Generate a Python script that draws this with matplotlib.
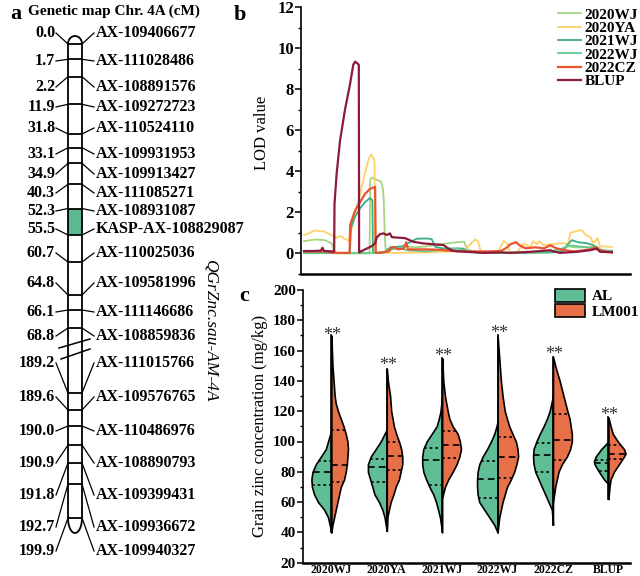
import numpy as np
import matplotlib
matplotlib.use("Agg")
import matplotlib.pyplot as plt
from matplotlib.patches import Patch, Rectangle
from matplotlib.ticker import MultipleLocator

plt.rcParams['font.family'] = ['Liberation Serif', 'DejaVu Serif']
plt.rcParams['font.weight'] = 'bold'

# ---------------- panel a data: genetic map of chr. 4A
map_cm = ["0.0", "1.7", "2.2", "11.9", "31.8", "33.1", "34.9", "40.3", "52.3", "55.5",
          "60.7", "64.8", "66.1", "68.8", "189.2", "189.6", "190.0", "190.9", "191.8",
          "192.7", "199.9"]
map_markers = ["AX-109406677", "AX-111028486", "AX-108891576", "AX-109272723",
               "AX-110524110", "AX-109931953", "AX-109913427", "AX-111085271",
               "AX-108931087", "KASP-AX-108829087", "AX-110025036", "AX-109581996",
               "AX-111146686", "AX-108859836", "AX-111015766", "AX-109576765",
               "AX-110486976", "AX-108890793", "AX-109399431", "AX-109936672",
               "AX-109940327"]
qtl_interval = (8, 9)  # markers bounding the QTL box

# ---------------- panel b data: LOD profiles (position, LOD)
lod_2020wj = [(0, 0.6), (3.6, 0.68), (6.8, 0.65), (9.0, 0.49), (9.7, 0.13), (10.5, 0.0),
              (21.3, 0.0), (21.5, 3.6), (22.0, 3.7), (23.5, 3.6), (25.0, 3.5), (25.6, 3.2),
              (25.9, 2.6), (26.2, 1.0), (26.5, 0.2), (28, 0.15), (30, 0.3), (33, 0.35),
              (36, 0.3), (40, 0.35), (44, 0.45), (48, 0.52), (52, 0.58), (53, 0.2),
              (56, 0.05), (60, 0.03), (70, 0.05), (80, 0.05), (84, 0.2), (86, 0.35),
              (88, 0.3), (92, 0.3), (95, 0.35), (97, 0.15), (100, 0.1)]
lod_2020ya = [(0, 0.89), (3.6, 1.12), (6.8, 1.06), (9.0, 0.89), (10.6, 0.76), (11.7, 0.85),
              (14.4, 0.62), (15.5, 1.2), (16.6, 1.95), (18.2, 2.9), (19.8, 3.9), (21.1, 4.65),
              (21.8, 4.82), (22.9, 4.55), (23.1, 0.03), (30, 0.03), (40, 0.05), (48, 0.1),
              (52, 0.15), (54, 0.45), (55.6, 0.68), (56.5, 0.6), (57.5, 0.05), (63, 0.05),
              (64.8, 0.6), (66, 0.5), (67, 0.05), (69.1, 0.05), (71.3, 0.5), (73.5, 0.3),
              (74.5, 0.6), (75.6, 0.45), (76.5, 0.6), (77.8, 0.4), (80, 0.45), (84.3, 0.5),
              (85.8, 0.45), (86.5, 1.0), (88.6, 1.1), (90.2, 1.14), (91.5, 0.9), (93, 0.8),
              (94, 0.5), (95.4, 0.75), (96.2, 0.35), (100, 0.32)]
lod_2021wj = [(0, 0.02), (14.9, 0.02), (15.3, 1.27), (16.6, 1.8), (18.2, 2.2), (19.8, 2.5),
              (21.4, 2.7), (22.2, 2.6), (22.4, 0.02), (26, 0.05), (28, 0.3), (32, 0.35),
              (34.4, 0.55), (36.6, 0.72), (40, 0.73), (41.5, 0.7), (42.6, 0.33), (45, 0.25),
              (51.8, 0.24), (53, 0.08), (60, 0.03), (70, 0.03), (80, 0.05), (84, 0.1),
              (85.4, 0.4), (87, 0.65), (89, 0.55), (91.9, 0.5), (94, 0.4), (95, 0.24),
              (96.2, 0.15), (100, 0.13)]
lod_2022wj = [(0, 0.03), (22.5, 0.03), (26, 0.05), (28, 0.2), (31, 0.25), (34, 0.15),
              (40, 0.1), (46, 0.2), (50, 0.25), (53, 0.1), (60, 0.03), (70, 0.05), (80, 0.1),
              (84, 0.25), (86, 0.4), (89, 0.35), (92, 0.3), (95, 0.2), (100, 0.08)]
lod_2022cz = [(0, 0.1), (8, 0.1), (9, 0.03), (14.8, 0.03), (15.0, 1.4), (16.6, 2.1),
              (18.2, 2.5), (19.8, 2.9), (21.4, 3.15), (23.1, 3.25), (23.3, 0.03), (25, 0.05),
              (27.5, 0.1), (28.5, 0.3), (29.6, 0.3), (30.5, 0.2), (32.5, 0.25), (33.2, 0.55),
              (33.8, 0.2), (40, 0.2), (44, 0.18), (46, 0.15), (50, 0.1), (60, 0.1), (64, 0.12),
              (66, 0.3), (67, 0.45), (68.9, 0.55), (70, 0.4), (72, 0.25), (75, 0.3),
              (78, 0.25), (80, 0.4), (82, 0.25), (85, 0.15), (88, 0.1), (93, 0.2), (95, 0.3),
              (96, 0.15), (100, 0.05)]
lod_blup = [(0, 0.12), (3, 0.12), (5.5, 0.14), (6, 0.28), (6.5, 0.12), (9.5, 0.1), (9.8, 0.1),
            (9.9, 2.4), (10.6, 3.9), (11.7, 5.5), (13.3, 7.0), (15.0, 8.3), (16.0, 9.2),
            (16.6, 9.35), (17.3, 9.27), (17.8, 9.2), (17.9, 0.05), (18.2, 0.08), (20.4, 0.24),
            (22.0, 0.36), (23.1, 0.49), (23.6, 0.78), (24.7, 0.94), (25.8, 0.98), (26.9, 0.9),
            (27.9, 0.98), (28.5, 0.8), (29.6, 0.78), (32.8, 0.75), (35.5, 0.57), (38.8, 0.49),
            (42.0, 0.45), (45.3, 0.41), (46.9, 0.24), (48.5, 0.13), (52.9, 0.08), (58.3, 0.03),
            (63.7, 0.05), (66.9, 0.03), (73.4, 0.08), (80.0, 0.16), (81.0, 0.1), (83.2, 0.03),
            (88.6, 0.08), (93.0, 0.16), (95.1, 0.24), (96.2, 0.08), (100, 0.06)]
lod_series = ["2020WJ", "2020YA", "2021WJ", "2022WJ", "2022CZ", "BLUP"]
lod_data = [lod_2020wj, lod_2020ya, lod_2021wj, lod_2022wj, lod_2022cz, lod_blup]
lod_colors = ["#a5d47e", "#fdd168", "#3aae86", "#62c98f", "#e8552d", "#8c1a3c"]

# ---------------- panel c data: split violins (zinc level, half width)
envs = ["2020WJ", "2020YA", "2021WJ", "2022WJ", "2022CZ", "BLUP"]
al_levels = [[40, 50, 55, 60, 65, 70, 75, 80, 85, 90, 95, 100, 105, 108],
             [41, 50, 55, 60, 65, 70, 75, 80, 85, 90, 95, 100, 105, 108],
             [40, 50, 60, 65, 70, 75, 80, 85, 90, 95, 100, 105, 110, 115, 120, 130],
             [40, 45, 50, 55, 60, 65, 70, 75, 80, 85, 90, 95, 100, 105, 110, 113],
             [45, 55, 60, 65, 70, 75, 80, 85, 90, 95, 100, 105, 110, 115, 120, 125, 130],
             [72, 75, 80, 85, 87, 90, 95, 98, 100]]
al_widths = [[0, .06, .13, .24, .31, .35, .36, .34, .28, .19, .10, .06, .02, 0],
             [0, .04, .08, .14, .22, .26, .30, .34, .34, .29, .20, .11, .04, 0],
             [0, .04, .11, .16, .23, .29, .34, .36, .36, .34, .28, .19, .10, .06, .03, 0],
             [0, .06, .15, .24, .33, .36, .37, .37, .36, .33, .27, .19, .12, .06, .02, 0],
             [0, .02, .08, .14, .20, .26, .32, .35, .36, .35, .30, .24, .17, .11, .06, .03, 0],
             [0, .08, .17, .25, .26, .23, .13, .05, 0]]
lm_levels = [[40, 45, 50, 60, 70, 75, 80, 85, 90, 95, 100, 105, 110, 115, 120, 125, 130, 140, 150, 160, 170],
             [41, 50, 60, 65, 70, 75, 80, 85, 90, 95, 100, 105, 110, 120, 130, 135, 140, 148],
             [63, 70, 75, 80, 85, 90, 95, 100, 105, 110, 115, 120, 130, 140, 155],
             [40, 50, 60, 70, 75, 80, 85, 90, 95, 100, 105, 110, 120, 130, 140, 150, 160, 170],
             [60, 70, 80, 85, 90, 95, 100, 105, 110, 115, 120, 130, 140, 150, 156],
             [62, 70, 75, 80, 85, 90, 92, 95, 100, 105, 110, 116]]
lm_widths = [[0, .02, .05, .11, .17, .23, .26, .28, .29, .30, .29, .26, .22, .17, .12, .08, .06, .04, .02, .01, 0],
             [0, .01, .07, .12, .16, .22, .25, .28, .28, .26, .22, .17, .13, .08, .06, .04, .02, 0],
             [0, .05, .11, .19, .26, .31, .34, .32, .28, .19, .13, .10, .05, .02, 0],
             [0, .03, .09, .17, .24, .30, .34, .37, .36, .33, .27, .21, .13, .09, .06, .04, .02, 0],
             [0, .04, .10, .16, .25, .31, .34, .34, .32, .30, .26, .19, .12, .04, 0],
             [0, .02, .04, .10, .19, .28, .31, .28, .17, .08, .04, 0]]
al_quartiles = [(71, 80, 87), (73, 83, 88.5), (71, 87.5, 96), (63, 75.5, 87), (80, 91, 99), (80.5, 86, 88)]
lm_quartiles = [(73.5, 84.5, 107.5), (81.5, 90.5, 100), (89, 97.5, 107), (76, 89.5, 103), (88, 101, 118), (88.5, 92, 98)]
star_y = [172.5, 152.7, 159, 174, 160, 119.7]

AL_COLOR = "#5fbe96"
LM_COLOR = "#e87048"

W, H = 640, 576
fig = plt.figure(figsize=(6.4, 5.76), dpi=100)


def px_axes(left, top, right, bottom):
    return fig.add_axes([left / W, 1 - bottom / H, (right - left) / W, (bottom - top) / H])


# ================= panel a (drawn in pixel coordinates)
ax_a = fig.add_axes([0, 0, 1, 1])
ax_a.set_xlim(0, W)
ax_a.set_ylim(H, 0)
ax_a.axis('off')

label_y = [33, 61, 87, 107, 128, 154, 174, 193, 211, 229, 253, 283, 312, 336, 363, 397,
           431, 463, 495, 527, 551]
band_y = [44, 59.3, 76.7, 104.3, 134, 147.7, 163.3, 184.3, 208.5, 235, 262, 295, 310, 328,
          393, 410, 426, 445, 463, 484, 518]
bar_l, bar_r = 68, 82
bar_c = (bar_l + bar_r) / 2
top_y, bot_y = band_y[0], band_y[-1]

lo, hi = qtl_interval
ax_a.add_patch(Rectangle((bar_l, band_y[lo]), bar_r - bar_l, band_y[hi] - band_y[lo],
                         facecolor="#5cb88f", edgecolor='none', zorder=1))
t = np.linspace(0, np.pi, 40)
ax_a.plot(bar_c + 7 * np.cos(t), top_y - 8 * np.sin(t), color='black', lw=1.3)
ax_a.plot(bar_c + 7 * np.cos(t), bot_y + 15 * np.sin(t), color='black', lw=1.3)
ax_a.plot([bar_l, bar_l], [top_y, bot_y], color='black', lw=1.3)
ax_a.plot([bar_r, bar_r], [top_y, bot_y], color='black', lw=1.3)
for yb in band_y:
    ax_a.plot([bar_l, bar_r], [yb, yb], color='black', lw=1.3)
# break marks
ax_a.plot([59, 90], [348, 339], color='black', lw=1.1)
ax_a.plot([61, 90], [359, 349], color='black', lw=1.1)

for cm, mk, ly, by in zip(map_cm, map_markers, label_y, band_y):
    ax_a.plot([56, bar_l], [ly, by], color='black', lw=0.9)
    ax_a.plot([bar_r, 94], [by, ly], color='black', lw=0.9)
    ax_a.text(55, ly, cm, ha='right', va='center', fontsize=11.5)
    ax_a.text(96, ly, mk, ha='left', va='center', fontsize=11.5)

ax_a.text(114, 11, "Genetic map Chr. 4A (cM)", ha='center', va='center', fontsize=11)
ax_a.text(211, 330, "QGrZnc.sau-AM-4A", ha='center', va='center', rotation=-90,
          fontsize=12.5, style='italic', weight='normal')
ax_a.text(16, 14, "a", ha='center', va='center', fontsize=16)
ax_a.text(240, 15, "b", ha='center', va='center', fontsize=16)
ax_a.text(244, 296, "c", ha='center', va='center', fontsize=16)

# ================= panel b
ax_b = px_axes(301, 7.3, 630, 274)
ax_b.patch.set_alpha(0)
for name, pts, col in zip(lod_series, lod_data, lod_colors):
    xs = [p[0] for p in pts]
    ys = [p[1] for p in pts]
    lw = 1.6 if name in ("2022CZ", "BLUP") else 1.3
    ax_b.plot(xs, ys, color=col, lw=lw, label=name)
ax_b.set_xlim(-0.98, 105.9)
ax_b.set_ylim(-1, 12)
ax_b.set_xticks([])
ax_b.yaxis.set_major_locator(MultipleLocator(2))
ax_b.yaxis.set_minor_locator(MultipleLocator(1))
ax_b.set_yticks(range(0, 13, 2))
ax_b.tick_params(axis='y', which='major', length=4, width=1.1, labelsize=12, pad=1)
ax_b.tick_params(axis='y', which='minor', length=2.2, width=1.0)
ax_b.spines['top'].set_visible(False)
ax_b.spines['right'].set_visible(False)
ax_b.spines['left'].set_linewidth(1.2)
ax_b.spines['bottom'].set_linewidth(1.8)
ax_b.set_ylabel("LOD value", fontsize=12)
ax_b.yaxis.set_label_coords(-0.094, 0.53)
ax_b.legend(loc='upper left', bbox_to_anchor=(0.78, 0.998), frameon=False, fontsize=11,
            handlelength=1.5, handletextpad=0.25, labelspacing=-0.02, borderpad=0,
            borderaxespad=0)

# ================= panel c
ax_c = px_axes(302.7, 290, 630, 562.7)
ax_c.patch.set_alpha(0)
dotted = (0, (1.6, 1.8))
dashed = (0, (4, 2.5))
for i in range(len(envs)):
    al_v, al_w = np.array(al_levels[i]), np.array(al_widths[i])
    lm_v, lm_w = np.array(lm_levels[i]), np.array(lm_widths[i])
    ax_c.fill_betweenx(al_v, i - al_w, i, facecolor=AL_COLOR, edgecolor='black', lw=1.2, zorder=2)
    ax_c.fill_betweenx(lm_v, i, i + lm_w, facecolor=LM_COLOR, edgecolor='black', lw=1.2, zorder=2)
    for q, ls in zip(al_quartiles[i], [dotted, dashed, dotted]):
        hw = np.interp(q, al_v, al_w)
        ax_c.plot([i - hw, i], [q, q], color='black', ls=ls, lw=1.2, zorder=3)
    for q, ls in zip(lm_quartiles[i], [dotted, dashed, dotted]):
        hw = np.interp(q, lm_v, lm_w)
        ax_c.plot([i, i + hw], [q, q], color='black', ls=ls, lw=1.2, zorder=3)
    ax_c.plot([i, i], [min(al_v[0], lm_v[0]), max(al_v[-1], lm_v[-1])], color='black', lw=1.2, zorder=3)
    ax_c.annotate("**", (i + 0.02, star_y[i]), xytext=(0, -3), textcoords='offset points',
                  ha='center', va='center', fontsize=13, weight='normal', color='#333333')

ax_c.set_xlim(-0.517, 5.39)
ax_c.set_ylim(20, 200)
ax_c.set_xticks(range(len(envs)))
ax_c.set_xticklabels(envs, fontsize=8.5)
ax_c.tick_params(axis='x', length=0, pad=1)
ax_c.yaxis.set_major_locator(MultipleLocator(20))
ax_c.yaxis.set_minor_locator(MultipleLocator(10))
ax_c.tick_params(axis='y', which='major', length=4, width=1.1, labelsize=11, pad=1)
ax_c.tick_params(axis='y', which='minor', length=2.2, width=1.0)
ax_c.spines['top'].set_visible(False)
ax_c.spines['right'].set_visible(False)
ax_c.spines['left'].set_linewidth(1.2)
ax_c.spines['bottom'].set_linewidth(1.8)
ax_c.set_ylabel("Grain zinc concentration (mg/kg)", fontsize=12)
ax_c.yaxis.set_label_coords(-0.106, 0.5)
handles = [Patch(facecolor=AL_COLOR, edgecolor='black', lw=1.2, label='AL'),
           Patch(facecolor=LM_COLOR, edgecolor='black', lw=1.2, label='LM001')]
ax_c.legend(handles=handles, loc='upper left', bbox_to_anchor=(0.77, 1.005), frameon=False,
            fontsize=11, handlelength=1.95, handleheight=0.95, handletextpad=0.45,
            labelspacing=0.05, borderpad=0, borderaxespad=0)

fig.savefig("out.png", dpi=100)
